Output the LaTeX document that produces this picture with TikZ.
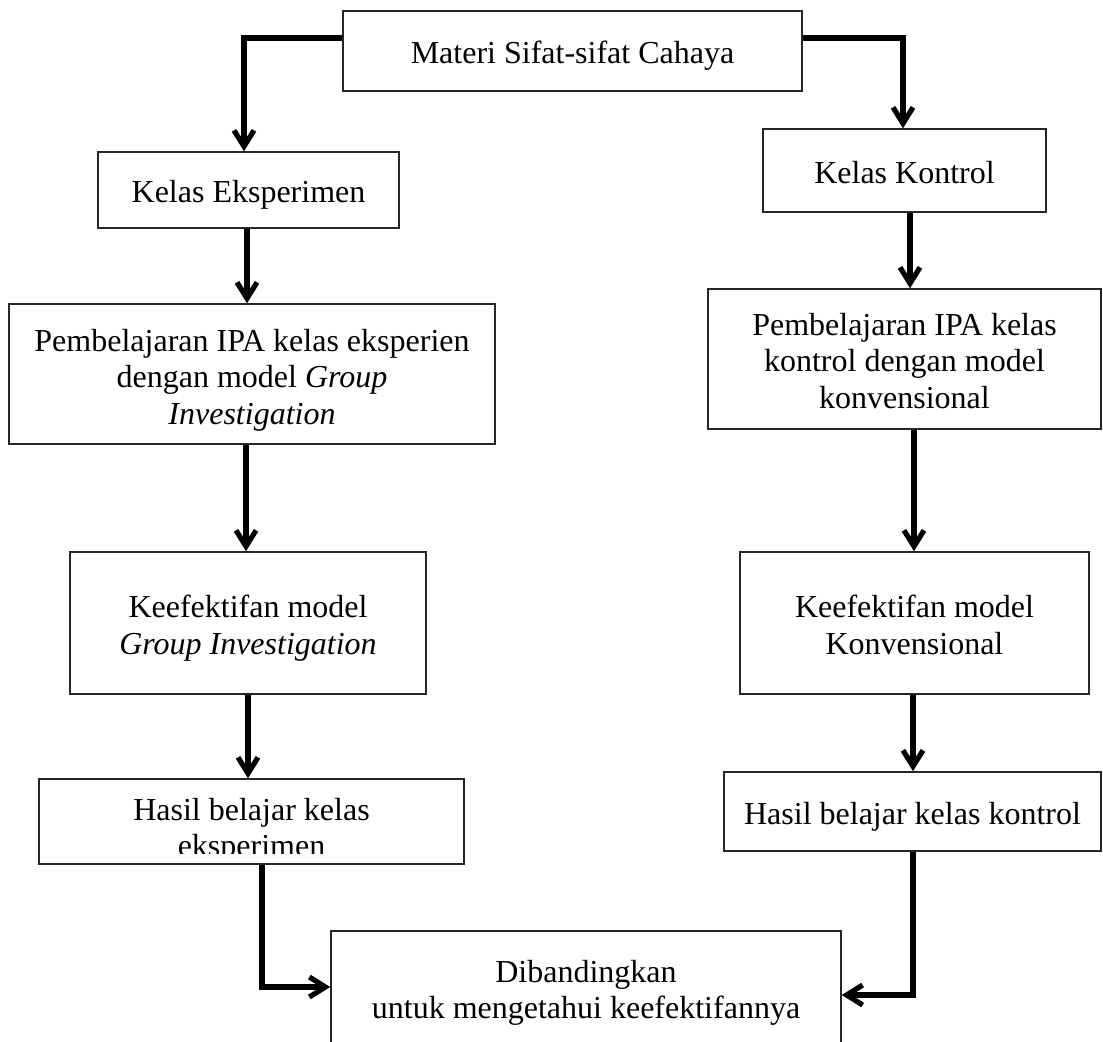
\documentclass[tikz,border=0pt]{standalone}
\usepackage{fontspec}
\setmainfont{Liberation Serif}
\usetikzlibrary{arrows.meta}
\begin{document}
\begin{tikzpicture}[x=0.5pt,y=-0.5pt,
  box/.style={draw=black!85, line width=0.75pt, rectangle, inner sep=0pt},
  txt/.style={inner sep=0pt, align=center, font=\fontsize{16pt}{18.25pt}\selectfont},
  conn/.style={line width=2.6pt, -{Straight Barb[length=8pt,width=10pt]}}]
\useasboundingbox (0,0) rectangle (1103,1041);
\clip (0,0) rectangle (1103,1041);

% boxes
\node[box, minimum width=229.5pt, minimum height=40pt] (top) at (572.5,51) {};
\node[box, minimum width=150.5pt, minimum height=38pt] (ke) at (248.5,190) {};
\node[box, minimum width=141.5pt, minimum height=41.5pt] (kk) at (904.5,170.5) {};
\node[box, minimum width=243pt, minimum height=70pt] (pe) at (252,374) {};
\node[box, minimum width=196.5pt, minimum height=70pt] (pk) at (904.5,359) {};
\node[box, minimum width=178pt, minimum height=71pt] (fe) at (248,623) {};
\node[box, minimum width=174.5pt, minimum height=71pt] (fk) at (914.5,623) {};
\node[box, minimum width=212.5pt, minimum height=42.5pt] (he) at (251.5,821.5) {};
\node[box, minimum width=188.5pt, minimum height=39.5pt] (hk) at (912.5,811.5) {};
\node[box, minimum width=255pt, minimum height=62pt] (db) at (586,993) {};

% texts
\node[txt] (topt) at ([yshift=-2.5pt]top.center) {Materi Sifat-sifat Cahaya};
\node[txt] (ket) at ([yshift=-2.5pt]ke.center) {Kelas Eksperimen};
\node[txt] (kkt) at ([yshift=-1pt]kk.center) {Kelas Kontrol};
\node[txt] (pet) at ([yshift=-3pt]pe.center)
  {Pembelajaran IPA kelas eksperien\\dengan model \textit{Group}\\\textit{Investigation}};
\node[txt] (pkt) at ([yshift=-1pt]pk.center)
  {Pembelajaran IPA kelas\\kontrol dengan model\\konvensional};
\node[txt] (fet) at ([yshift=-2.5pt]fe.center)
  {Keefektifan model\\\textit{Group Investigation}};
\node[txt] (fkt) at ([yshift=-1pt]fk.center)
  {Keefektifan model\\Konvensional};
\begin{scope}
  \clip (39,779) rectangle (464,853);
  \node[txt] (het) at (251.5,831) {Hasil belajar kelas\\eksperimen};
\end{scope}
\node[txt] (hkt) at ([yshift=-2.5pt]hk.center) {Hasil belajar kelas kontrol};
\node[txt] (dbt) at (db.center) {Dibandingkan\\untuk mengetahui keefektifannya};

% connectors
\draw[conn] (top.west |- 0,38) -| (ke.north -| 244,0);
\draw[conn] (top.east |- 0,38) -| (kk.north -| 903,0);
\draw[conn] (ke.south -| 247,0) -- (pe.north -| 247,0);
\draw[conn] (kk.south -| 910,0) -- (pk.north -| 910,0);
\draw[conn] (pe.south -| 246,0) -- (fe.north -| 246,0);
\draw[conn] (pk.south -| 914,0) -- (fk.north -| 914,0);
\draw[conn] (fe.south -| 248,0) -- (he.north -| 248,0);
\draw[conn] (fk.south -| 913,0) -- (hk.north -| 913,0);
\draw[conn] (he.south -| 262,0) |- (db.west |- 0,987);
\draw[conn] (hk.south -| 913,0) |- (db.east |- 0,995);
\end{tikzpicture}
\end{document}
